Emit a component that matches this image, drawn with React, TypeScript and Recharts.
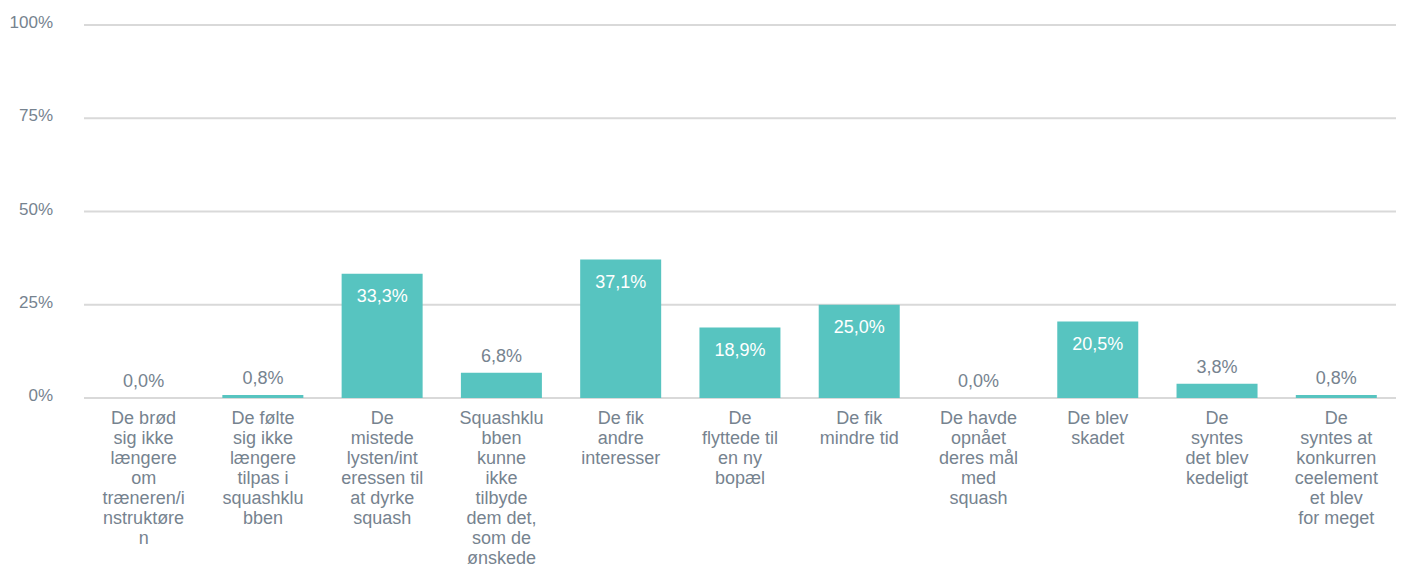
import React from "react";
import { ComposedChart, Bar, Line, XAxis, YAxis, CartesianGrid, LabelList } from "recharts";

const categories: string[][] = [
  ["De brød", "sig ikke", "længere", "om", "træneren/i", "nstruktøre", "n"],
  ["De følte", "sig ikke", "længere", "tilpas i", "squashklu", "bben"],
  ["De", "mistede", "lysten/int", "eressen til", "at dyrke", "squash"],
  ["Squashklu", "bben", "kunne", "ikke", "tilbyde", "dem det,", "som de", "ønskede"],
  ["De fik", "andre", "interesser"],
  ["De", "flyttede til", "en ny", "bopæl"],
  ["De fik", "mindre tid"],
  ["De havde", "opnået", "deres mål", "med", "squash"],
  ["De blev", "skadet"],
  ["De", "syntes", "det blev", "kedeligt"],
  ["De", "syntes at", "konkurren", "ceelement", "et blev", "for meget"],
];
const values: number[] = [0.0, 0.8, 33.3, 6.8, 37.1, 18.9, 25.0, 0.0, 20.5, 3.8, 0.8];
const yTicks: number[] = [0, 25, 50, 75, 100];

const data = categories.map((lines, i) => ({ key: String(i), lines, value: values[i] }));

const TEXT = "#76838f";
const TEAL = "#57c4c0";
const FONT = "'Liberation Sans', Arial, sans-serif";

const XTick = (props: any) => {
  const { x, y, payload } = props;
  const lines = data[Number(payload.value)].lines;
  return (
    <text x={x} y={y} textAnchor="middle" fill={TEXT} fontSize={18} fontFamily={FONT}>
      {lines.map((l: string, i: number) => (
        <tspan key={i} x={x} y={y + 18 + i * 20}>
          {l}
        </tspan>
      ))}
    </text>
  );
};

const YTick = (props: any) => {
  const { y, payload } = props;
  return (
    <text x={53} y={y + 3} textAnchor="end" fill={TEXT} fontSize={17} fontFamily={FONT}>
      {payload.value}%
    </text>
  );
};

const ValueLabel = (props: any) => {
  const { x, y, value } = props;
  const inside = value >= 10;
  const txt = value.toFixed(1).replace(".", ",") + "%";
  return (
    <text
      x={x}
      y={inside ? y + 28 : y - 11}
      textAnchor="middle"
      fill={inside ? "#ffffff" : TEXT}
      fontSize={18}
      fontFamily={FONT}
    >
      {txt}
    </text>
  );
};

export default function App() {
  return (
    <div style={{ position: "absolute", left: 0, top: 0, background: "#fff" }}>
      <ComposedChart
        width={1404}
        height={567}
        data={data}
        margin={{ top: 25, right: 8, left: 0, bottom: 0 }}
        barCategoryGap="16%"
      >
        <CartesianGrid vertical={false} stroke="#d9d9d9" strokeWidth={2} />
        <XAxis dataKey="key" interval={0} tick={<XTick />} tickLine={false} axisLine={false} height={169} />
        <YAxis
          domain={[0, 100]}
          ticks={yTicks}
          width={84}
          tick={<YTick />}
          tickLine={false}
          axisLine={false}
        />
        <Bar dataKey="value" fill={TEAL} isAnimationActive={false} />
        <Line
          dataKey="value"
          stroke="none"
          dot={false}
          activeDot={false}
          isAnimationActive={false}
          legendType="none"
        >
          <LabelList dataKey="value" content={<ValueLabel />} />
        </Line>
      </ComposedChart>
    </div>
  );
}
